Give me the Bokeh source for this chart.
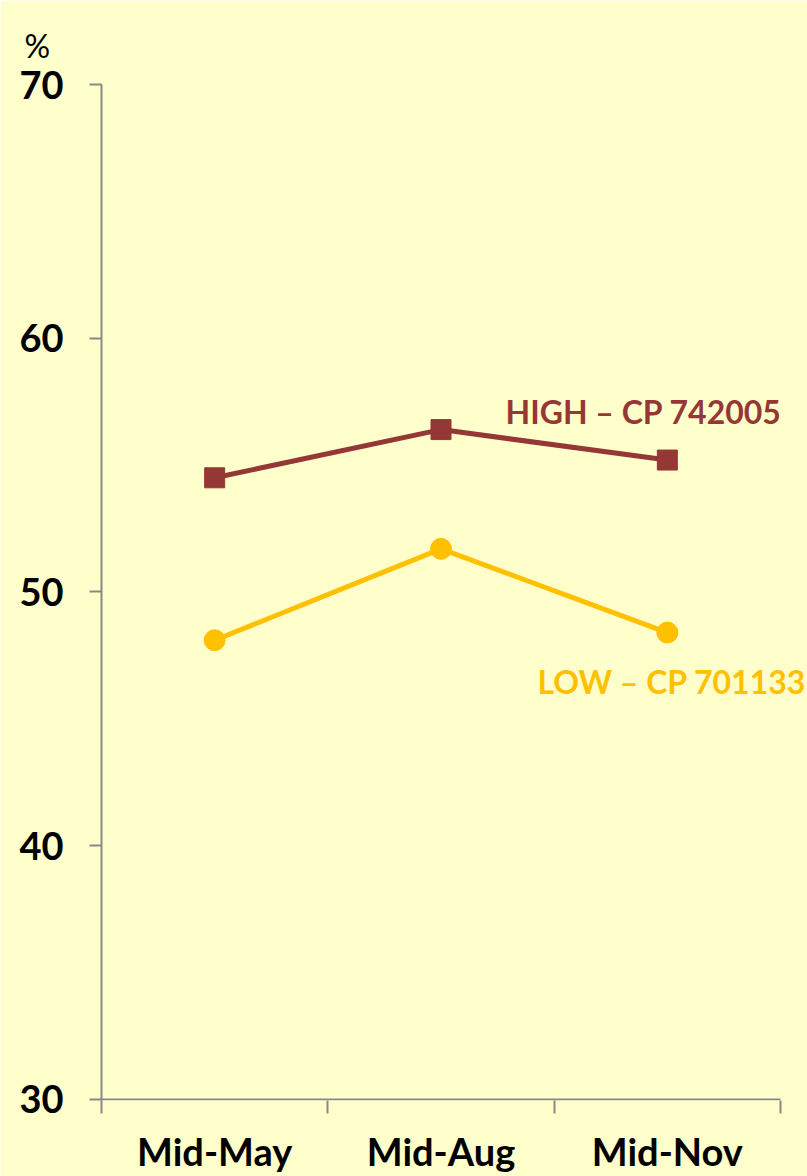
from bokeh.plotting import figure
from bokeh.models import FixedTicker, Label, Range1d
from bokeh.embed import file_html
from bokeh.resources import INLINE

# Share of respondents (%) at three survey points
periods = ["Mid-May", "Mid-Aug", "Mid-Nov"]
high_cp = [54.5, 56.4, 55.2]
low_cp = [48.1, 51.7, 48.4]
y_ticks = [30, 40, 50, 60, 70]

high_name = "HIGH \u2013 CP 742005"
low_name = "LOW \u2013 CP 701133"

BG = "#FFFFCC"
AXIS = "#888888"
HIGH_COLOR = "#953735"
LOW_COLOR = "#FFC000"
FONT = "Lato"

n = len(periods)
xs = [i + 0.5 for i in range(n)]
# plot area runs to the right edge so the series names are not cut off;
# the category axis itself stops at x = n
x_end = n + 27 / 679 * n
y_start = 29.96

p = figure(
    width=807, height=1176,
    x_range=Range1d(0, x_end), y_range=Range1d(y_start, 70),
    output_backend="svg", toolbar_location=None,
    min_border_left=101, min_border_right=0,
    min_border_top=84, min_border_bottom=75,
)
p.background_fill_color = BG
p.border_fill_color = BG
p.outline_line_color = None
p.grid.visible = False

# "%" unit marker above the value axis
p.title.text = "%"
p.title.align = "left"
p.title.offset = -77
p.title.standoff = 40
p.title.text_font = FONT
p.title.text_font_size = "32px"
p.title.text_font_style = "normal"
p.title.text_color = "black"

# x axis: labels at category centres, tick marks at category boundaries
xa = p.xaxis[0]
xa.ticker = FixedTicker(ticks=xs, minor_ticks=list(range(n + 1)))
xa.major_label_overrides = {x: lab for x, lab in zip(xs, periods)}
xa.axis_line_color = None
xa.major_tick_line_color = None
xa.major_tick_out = 0
xa.major_tick_in = 0
xa.minor_tick_line_color = AXIS
xa.minor_tick_line_width = 2
xa.minor_tick_out = 13
xa.minor_tick_in = 0
xa.major_label_standoff = 14
xa.major_label_text_font = FONT
xa.major_label_text_font_style = "bold"
xa.major_label_text_font_size = "38px"
xa.major_label_text_line_height = 1.0
xa.major_label_text_color = "black"
p.segment(x0=[0], y0=[30], x1=[n], y1=[30], line_color=AXIS, line_width=2)

ya = p.yaxis[0]
ya.ticker = FixedTicker(ticks=y_ticks, minor_ticks=[])
ya.axis_line_color = AXIS
ya.axis_line_width = 2
ya.major_tick_line_color = AXIS
ya.major_tick_line_width = 2
ya.major_tick_out = 12
ya.major_tick_in = 0
ya.minor_tick_line_color = None
ya.major_label_standoff = 26
ya.major_label_text_font = FONT
ya.major_label_text_font_style = "bold"
ya.major_label_text_font_size = "38px"
ya.major_label_text_color = "black"

# series
p.line(xs, high_cp, line_color=HIGH_COLOR, line_width=5)
p.scatter(xs, high_cp, marker="square", size=20, fill_color=HIGH_COLOR, line_color=HIGH_COLOR)
p.line(xs, low_cp, line_color=LOW_COLOR, line_width=5)
p.scatter(xs, low_cp, marker="circle", size=21, fill_color=LOW_COLOR, line_color=LOW_COLOR)

# series names
p.add_layout(Label(x=1.785, y=57.1, text=high_name, text_font=FONT, text_font_style="bold",
                   text_font_size="32px", text_color=HIGH_COLOR, text_baseline="alphabetic"))
p.add_layout(Label(x=1.926, y=46.48, text=low_name, text_font=FONT, text_font_style="bold",
                   text_font_size="32px", text_color=LOW_COLOR, text_baseline="alphabetic"))

open("out.html", "w").write(file_html(p, INLINE))
